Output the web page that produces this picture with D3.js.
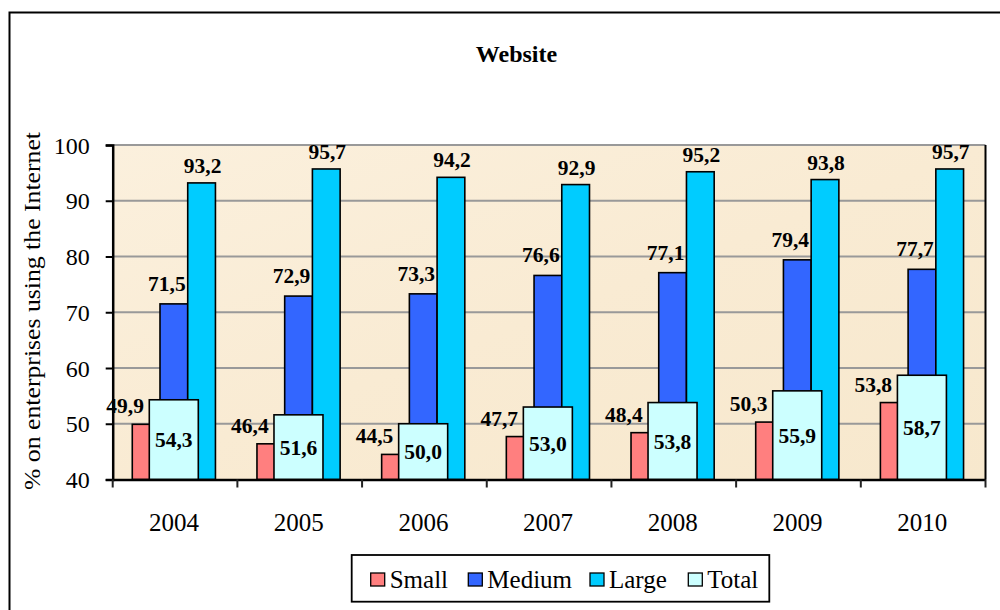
<!DOCTYPE html>
<html>
<head>
<meta charset="utf-8">
<script src="https://cdn.jsdelivr.net/npm/d3@7"></script>
<style>
  html, body { margin: 0; padding: 0; background: #fff; }
  svg { display: block; }
  svg text { font-family: "Liberation Serif", "Times New Roman", Times, "DejaVu Serif", serif !important; fill: #000; }
</style>
</head>
<body>
<svg id="chart" width="1000" height="610"></svg>
<script>
const years = ["2004", "2005", "2006", "2007", "2008", "2009", "2010"];
const seriesNames = ["Small", "Medium", "Large", "Total"];
const small  = [49.9, 46.4, 44.5, 47.7, 48.4, 50.3, 53.8];
const medium = [71.5, 72.9, 73.3, 76.6, 77.1, 79.4, 77.7];
const large  = [93.2, 95.7, 94.2, 92.9, 95.2, 93.8, 95.7];
const total  = [54.3, 51.6, 50.0, 53.0, 53.8, 55.9, 58.7];
const yTicks = [40, 50, 60, 70, 80, 90, 100];
const colors = { Small: "#ff7f7f", Medium: "#3366ff", Large: "#00ccff", Total: "#ccffff" };
const titleText = "Website";
const yTitleText = "% on enterprises using the Internet";

const svg = d3.select("#chart");
const L = 112.7, R = 985.5, T = 145, B = 479.5;

const x = d3.scaleBand().domain(years).range([L, R]).padding(0);
const y = d3.scaleLinear().domain([40, 100]).range([B, T]);
const bw = x.bandwidth();
const x1 = d3.scaleBand().domain(["Small", "Medium", "Large"]).range([0.157 * bw, 0.824 * bw]).padding(0);
const totalW = 0.393 * bw;
const totalC = 0.49 * bw;
const fmt = v => d3.format(".1f")(v).replace(".", ",");

// outer border
svg.append("rect").attr("x", 9.5).attr("y", 12.5).attr("width", 1000).attr("height", 700)
  .attr("fill", "none").attr("stroke", "#000").attr("stroke-width", 2);

// plot background
const defs = svg.append("defs");
const grad = defs.append("linearGradient").attr("id", "bg").attr("x1", 0).attr("y1", 0).attr("x2", 1).attr("y2", 1);
grad.append("stop").attr("offset", "0%").attr("stop-color", "#fbf0dd");
grad.append("stop").attr("offset", "50%").attr("stop-color", "#f9ebd3");
grad.append("stop").attr("offset", "100%").attr("stop-color", "#f7e8cd");
svg.append("rect").attr("x", L).attr("y", T).attr("width", R - L).attr("height", B - T).attr("fill", "url(#bg)");

// gridlines
svg.append("g").selectAll("line").data(yTicks.filter(t => t > 40)).join("line")
  .attr("x1", L).attr("x2", R).attr("y1", d => y(d)).attr("y2", d => y(d))
  .attr("stroke", "#999").attr("stroke-width", 2);

// right border of plot
svg.append("line").attr("x1", R).attr("x2", R).attr("y1", T).attr("y2", B)
  .attr("stroke", "#000").attr("stroke-width", 2);

// bars
const groups = [["Small", small], ["Medium", medium], ["Large", large]];
groups.forEach(([name, vals]) => {
  svg.append("g").selectAll("rect").data(vals).join("rect")
    .attr("x", (d, i) => x(years[i]) + x1(name))
    .attr("y", d => y(d))
    .attr("width", x1.bandwidth())
    .attr("height", d => y(40) - y(d))
    .attr("fill", colors[name]).attr("stroke", "#000").attr("stroke-width", 1.6);
});
svg.append("g").selectAll("rect").data(total).join("rect")
  .attr("x", (d, i) => x(years[i]) + totalC - totalW / 2)
  .attr("y", d => y(d))
  .attr("width", totalW)
  .attr("height", d => y(40) - y(d))
  .attr("fill", colors.Total).attr("stroke", "#000").attr("stroke-width", 1.6);

// axes
const yAxis = d3.axisLeft(y).tickValues(yTicks).tickSize(7).tickPadding(16).tickFormat(d3.format("d"));
const gy = svg.append("g").attr("transform", `translate(${L},0)`).call(yAxis);
gy.attr("font-family", null);
gy.select(".domain").attr("stroke", "#000").attr("stroke-width", 2.5);
gy.selectAll(".tick line").attr("stroke", "#000").attr("stroke-width", 2);
gy.selectAll(".tick text").style("font-size", "24px").attr("dy", "0.34em");

const xAxis = d3.axisBottom(x).tickSize(0).tickPadding(34);
const gx = svg.append("g").attr("transform", `translate(0,${B})`).call(xAxis);
gx.attr("font-family", null);
gx.select(".domain").attr("stroke", "#000").attr("stroke-width", 2.5);
gx.selectAll(".tick text").style("font-size", "25px").attr("dx", "-1");
// boundary ticks
gx.append("g").selectAll("line").data(years.concat(["end"])).join("line")
  .attr("x1", (d, i) => L + i * bw).attr("x2", (d, i) => L + i * bw)
  .attr("y1", 0).attr("y2", 8).attr("stroke", "#222").attr("stroke-width", 2);

// data labels
const lab = svg.append("g").style("font-weight", "bold").style("font-size", "21.5px");
lab.selectAll(".ls").data(small).join("text")
  .attr("text-anchor", "middle")
  .attr("x", (d, i) => x(years[i]) + x1("Small") + x1.bandwidth() / 2 - 21)
  .attr("y", d => y(d) - 11).text(fmt);
lab.selectAll(".lm").data(medium).join("text")
  .attr("text-anchor", "middle")
  .attr("x", (d, i) => x(years[i]) + x1("Medium") + x1.bandwidth() / 2 - 7)
  .attr("y", d => y(d) - 13).text(fmt);
lab.selectAll(".ll").data(large).join("text")
  .attr("text-anchor", "middle")
  .attr("x", (d, i) => x(years[i]) + x1("Large") + x1.bandwidth() / 2 + 1)
  .attr("y", d => y(d) - 10).text(fmt);
lab.selectAll(".lt").data(total).join("text")
  .attr("text-anchor", "middle")
  .attr("x", (d, i) => x(years[i]) + totalC)
  .attr("y", d => (y(d) + y(40)) / 2).attr("dy", "0.35em").text(fmt);

// title
svg.append("text").attr("x", 516.5).attr("y", 62).attr("text-anchor", "middle")
  .style("font-weight", "bold").style("font-size", "24px").text(titleText);

// y title
svg.append("text").attr("transform", "translate(40,311) rotate(-90)").attr("text-anchor", "middle")
  .style("font-size", "24px").attr("textLength", 358).attr("lengthAdjust", "spacingAndGlyphs").text(yTitleText);

// legend
const lg = svg.append("g");
lg.append("rect").attr("x", 351.7).attr("y", 555).attr("width", 417.6).attr("height", 46.7)
  .attr("fill", "#fff").attr("stroke", "#000").attr("stroke-width", 1.8);
const legendX = [370.7, 468.3, 590, 688.3];
const legItems = lg.selectAll("g.item").data(seriesNames).join("g")
  .attr("transform", (d, i) => `translate(${legendX[i]},0)`);
legItems.append("rect").attr("x", 0).attr("y", 573).attr("width", 14).attr("height", 13)
  .attr("fill", d => colors[d]).attr("stroke", "#000").attr("stroke-width", 1.3);
legItems.append("text").attr("x", 19).attr("y", 588).style("font-size", "25px").text(d => d);
</script>
</body>
</html>
